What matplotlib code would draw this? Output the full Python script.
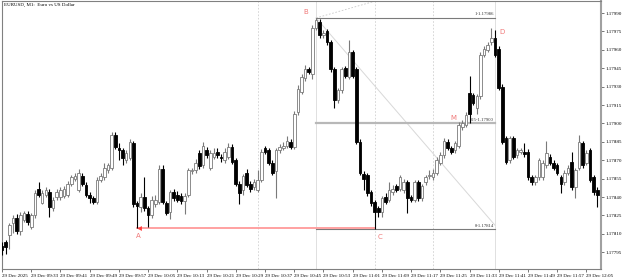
import matplotlib
matplotlib.use("Agg")
import matplotlib.pyplot as plt
from matplotlib.patches import Rectangle

# M1 candles, EURUSD 29 Dec 09:25 .. 12:08
opens = [1.17800, 1.17803, 1.17809, 1.17819, 1.17823, 1.17812, 1.17821, 1.17826, 1.17816, 1.17825,
         1.17847, 1.17835, 1.17842, 1.17844, 1.17831, 1.17840, 1.17840, 1.17841, 1.17842, 1.17851,
         1.17855, 1.17846, 1.17857, 1.17850, 1.17842, 1.17839, 1.17836, 1.17854, 1.17856, 1.17862,
         1.17864, 1.17891, 1.17880, 1.17878, 1.17870, 1.17872, 1.17884, 1.17835, 1.17832, 1.17840,
         1.17831, 1.17825, 1.17834, 1.17836, 1.17863, 1.17835, 1.17828, 1.17844, 1.17842, 1.17841,
         1.17837, 1.17842, 1.17861, 1.17862, 1.17876, 1.17866, 1.17878, 1.17864, 1.17873, 1.17877,
         1.17873, 1.17870, 1.17873, 1.17881, 1.17870, 1.17851, 1.17846, 1.17860, 1.17851, 1.17848,
         1.17846, 1.17854, 1.17880, 1.17878, 1.17868, 1.17861, 1.17878, 1.17880, 1.17882, 1.17885,
         1.17881, 1.17909, 1.17926, 1.17937, 1.17944, 1.17940, 1.17978, 1.17983, 1.17972, 1.17975,
         1.17966, 1.17944, 1.17919, 1.17927, 1.17945, 1.17938, 1.17958, 1.17944, 1.17885, 1.17859,
         1.17858, 1.17844, 1.17836, 1.17831, 1.17828, 1.17840, 1.17838, 1.17844, 1.17849, 1.17847,
         1.17846, 1.17852, 1.17840, 1.17838, 1.17852, 1.17839, 1.17852, 1.17857, 1.17856, 1.17860,
         1.17868, 1.17874, 1.17885, 1.17880, 1.17878, 1.17882, 1.17897, 1.17899, 1.17925, 1.17923,
         1.17913, 1.17922, 1.17956, 1.17960, 1.17966, 1.17970, 1.17961, 1.17930, 1.17888, 1.17870,
         1.17888, 1.17874, 1.17877, 1.17877, 1.17877, 1.17856, 1.17852, 1.17856, 1.17856, 1.17866,
         1.17873, 1.17868, 1.17866, 1.17856, 1.17852, 1.17860, 1.17869, 1.17848, 1.17864, 1.17884,
         1.17868, 1.17878, 1.17856, 1.17846]
highs = [1.17803, 1.17805, 1.17819, 1.17825, 1.17826, 1.17828, 1.17829, 1.17829, 1.17827, 1.17846,
         1.17852, 1.17846, 1.17848, 1.17847, 1.17840, 1.17847, 1.17848, 1.17849, 1.17853, 1.17858,
         1.17860, 1.17863, 1.17860, 1.17852, 1.17844, 1.17841, 1.17856, 1.17860, 1.17868, 1.17868,
         1.17893, 1.17893, 1.17884, 1.17880, 1.17878, 1.17887, 1.17886, 1.17837, 1.17843, 1.17856,
         1.17833, 1.17841, 1.17842, 1.17866, 1.17866, 1.17837, 1.17846, 1.17847, 1.17845, 1.17843,
         1.17843, 1.17864, 1.17864, 1.17871, 1.17878, 1.17885, 1.17881, 1.17878, 1.17880, 1.17880,
         1.17875, 1.17880, 1.17884, 1.17883, 1.17872, 1.17853, 1.17859, 1.17863, 1.17853, 1.17855,
         1.17862, 1.17879, 1.17882, 1.17880, 1.17870, 1.17880, 1.17883, 1.17885, 1.17890, 1.17887,
         1.17910, 1.17931, 1.17940, 1.17948, 1.17946, 1.17980, 1.17986, 1.17985, 1.17976, 1.17977,
         1.17968, 1.17946, 1.17929, 1.17946, 1.17947, 1.17968, 1.17960, 1.17946, 1.17887, 1.17861,
         1.17860, 1.17846, 1.17838, 1.17833, 1.17841, 1.17843, 1.17852, 1.17850, 1.17851, 1.17858,
         1.17855, 1.17854, 1.17842, 1.17854, 1.17854, 1.17851, 1.17858, 1.17862, 1.17863, 1.17873,
         1.17877, 1.17888, 1.17887, 1.17882, 1.17886, 1.17901, 1.17903, 1.17909, 1.17939, 1.17925,
         1.17924, 1.17958, 1.17963, 1.17966, 1.17978, 1.17976, 1.17963, 1.17932, 1.17890, 1.17890,
         1.17890, 1.17880, 1.17880, 1.17884, 1.17879, 1.17858, 1.17858, 1.17872, 1.17870, 1.17886,
         1.17875, 1.17870, 1.17868, 1.17858, 1.17862, 1.17866, 1.17877, 1.17864, 1.17891, 1.17886,
         1.17878, 1.17880, 1.17858, 1.17848]
lows = [1.17793, 1.17794, 1.17798, 1.17811, 1.17810, 1.17809, 1.17820, 1.17817, 1.17814, 1.17823,
        1.17840, 1.17834, 1.17840, 1.17824, 1.17829, 1.17838, 1.17838, 1.17839, 1.17840, 1.17849,
        1.17853, 1.17844, 1.17849, 1.17840, 1.17835, 1.17834, 1.17834, 1.17852, 1.17854, 1.17860,
        1.17862, 1.17879, 1.17870, 1.17866, 1.17868, 1.17870, 1.17832, 1.17815, 1.17828, 1.17829,
        1.17816, 1.17823, 1.17832, 1.17834, 1.17834, 1.17825, 1.17822, 1.17837, 1.17836, 1.17834,
        1.17826, 1.17840, 1.17859, 1.17860, 1.17863, 1.17864, 1.17872, 1.17862, 1.17871, 1.17872,
        1.17869, 1.17868, 1.17871, 1.17867, 1.17849, 1.17834, 1.17842, 1.17848, 1.17844, 1.17846,
        1.17844, 1.17852, 1.17875, 1.17866, 1.17858, 1.17839, 1.17876, 1.17878, 1.17880, 1.17879,
        1.17879, 1.17907, 1.17924, 1.17935, 1.17940, 1.17936, 1.17976, 1.17970, 1.17970, 1.17964,
        1.17942, 1.17913, 1.17917, 1.17925, 1.17937, 1.17936, 1.17937, 1.17883, 1.17858, 1.17846,
        1.17841, 1.17833, 1.17814, 1.17824, 1.17824, 1.17834, 1.17836, 1.17842, 1.17844, 1.17845,
        1.17843, 1.17827, 1.17836, 1.17836, 1.17837, 1.17837, 1.17850, 1.17855, 1.17854, 1.17858,
        1.17866, 1.17872, 1.17878, 1.17875, 1.17876, 1.17880, 1.17895, 1.17897, 1.17900, 1.17915,
        1.17908, 1.17920, 1.17954, 1.17958, 1.17964, 1.17954, 1.17927, 1.17883, 1.17867, 1.17868,
        1.17871, 1.17872, 1.17875, 1.17873, 1.17854, 1.17850, 1.17850, 1.17854, 1.17854, 1.17864,
        1.17866, 1.17862, 1.17858, 1.17843, 1.17850, 1.17858, 1.17846, 1.17839, 1.17862, 1.17864,
        1.17866, 1.17852, 1.17842, 1.17832]
closes = [1.17797, 1.17799, 1.17817, 1.17823, 1.17812, 1.17825, 1.17827, 1.17820, 1.17825, 1.17843,
          1.17842, 1.17843, 1.17846, 1.17832, 1.17838, 1.17844, 1.17846, 1.17847, 1.17851, 1.17856,
          1.17857, 1.17860, 1.17851, 1.17842, 1.17839, 1.17836, 1.17854, 1.17857, 1.17864, 1.17866,
          1.17891, 1.17881, 1.17878, 1.17872, 1.17876, 1.17885, 1.17834, 1.17833, 1.17840, 1.17831,
          1.17825, 1.17838, 1.17838, 1.17863, 1.17836, 1.17827, 1.17844, 1.17839, 1.17838, 1.17837,
          1.17841, 1.17862, 1.17862, 1.17868, 1.17865, 1.17882, 1.17874, 1.17876, 1.17876, 1.17874,
          1.17872, 1.17877, 1.17881, 1.17869, 1.17851, 1.17843, 1.17857, 1.17850, 1.17847, 1.17852,
          1.17854, 1.17877, 1.17877, 1.17868, 1.17860, 1.17878, 1.17881, 1.17882, 1.17886, 1.17881,
          1.17908, 1.17928, 1.17938, 1.17944, 1.17942, 1.17978, 1.17984, 1.17972, 1.17974, 1.17966,
          1.17944, 1.17919, 1.17927, 1.17944, 1.17939, 1.17958, 1.17939, 1.17885, 1.17860, 1.17855,
          1.17843, 1.17835, 1.17828, 1.17828, 1.17839, 1.17836, 1.17846, 1.17847, 1.17846, 1.17856,
          1.17852, 1.17839, 1.17838, 1.17852, 1.17839, 1.17849, 1.17856, 1.17858, 1.17860, 1.17870,
          1.17874, 1.17886, 1.17880, 1.17877, 1.17884, 1.17899, 1.17900, 1.17907, 1.17908, 1.17917,
          1.17922, 1.17956, 1.17961, 1.17964, 1.17970, 1.17956, 1.17929, 1.17885, 1.17869, 1.17888,
          1.17873, 1.17878, 1.17878, 1.17875, 1.17856, 1.17852, 1.17856, 1.17870, 1.17868, 1.17876,
          1.17868, 1.17864, 1.17860, 1.17851, 1.17860, 1.17864, 1.17848, 1.17862, 1.17885, 1.17866,
          1.17876, 1.17854, 1.17844, 1.17842]

time_labels = ["29 Dec 2025", "29 Dec 09:33", "29 Dec 09:41", "29 Dec 09:49", "29 Dec 09:57",
               "29 Dec 10:05", "29 Dec 10:13", "29 Dec 10:21", "29 Dec 10:29", "29 Dec 10:37",
               "29 Dec 10:45", "29 Dec 10:53", "29 Dec 11:01", "29 Dec 11:09", "29 Dec 11:17",
               "29 Dec 11:25", "29 Dec 11:33", "29 Dec 11:41", "29 Dec 11:49", "29 Dec 11:57",
               "29 Dec 12:05"]
price_ticks = [1.17990, 1.17975, 1.17960, 1.17945, 1.17930, 1.17915, 1.17900,
               1.17885, 1.17870, 1.17855, 1.17840, 1.17825, 1.17810, 1.17795]

# pattern points (bar index, price)
pt_a = (37, 1.17815)
pt_b = (86, 1.17986)
pt_c = (102, 1.17814)
pt_d = (135, 1.17978)
pt_m = (125, 1.17900)
fib_levels = [(1.0, 1.17986), (0.5, 1.17900), (0.0, 1.17814)]
fib_start, fib_end = 86, 135

txt_font = ["Liberation Serif", "DejaVu Serif"]
pink = "#f07878"

fig = plt.figure(figsize=(6.25, 2.8), dpi=100)
ax = fig.add_axes([2 / 625, 11 / 280, 599 / 625, 268 / 280])

# object lines behind the candles
for xv in [70.2, 102.2, 118.1]:
    ax.axvline(xv, color="#d0d0d0", lw=0.6, ls=(0, (2, 2)), zorder=0)
for xv in [86.1, 135.0]:
    ax.axvline(xv, color="#e0e0e0", lw=0.7, zorder=0)
ax.plot([pt_b[0], 102.5], [pt_b[1], 1.18000], color="#c8c8c8", lw=0.6, ls=(0, (2, 2)), zorder=0)
ax.plot([pt_b[0], 135], [pt_b[1], 1.17817], color="#d8d8d8", lw=0.7, zorder=0)

for lev, price in fib_levels:
    if lev == 0.5:
        ax.plot([fib_start, fib_end], [price, price], color="#b8b8b8", lw=1.6, zorder=1)
    else:
        ax.plot([fib_start, fib_end], [price, price], color="#7a7a7a", lw=0.8, zorder=1)
    ax.text(fib_end - 0.3, price + 0.000012, "%g-%.5f" % (lev, price), ha="right", va="bottom",
            fontsize=3.4, family=txt_font, color="#333333", zorder=5)

# red line A -> C
ax.plot([pt_a[0], pt_c[0]], [pt_a[1], pt_a[1]], color="#ff9a9a", lw=1.3, zorder=2)
ax.plot([pt_a[0] + 0.6], [pt_a[1]], marker="<", ms=3.5, color="#ff4040", mec="none", zorder=3)

# candles
w = 0.72
for i in range(len(opens)):
    o, h, l, c = opens[i], highs[i], lows[i], closes[i]
    bull = c >= o
    wick = "#7a7a7a" if bull else "black"
    ax.plot([i, i], [l, h], color=wick, lw=0.8, zorder=3, solid_capstyle="butt")
    lo_b, hi_b = min(o, c), max(o, c)
    if hi_b - lo_b < 0.000008:
        hi_b = lo_b + 0.000008
    if bull:
        ax.add_patch(Rectangle((i - w / 2, lo_b), w, hi_b - lo_b, facecolor="white",
                               edgecolor="#7a7a7a", lw=0.6, zorder=4))
    else:
        ax.add_patch(Rectangle((i - w / 2, lo_b), w, hi_b - lo_b, facecolor="black",
                               edgecolor="black", lw=0.6, zorder=4))

# point labels
ax.text(pt_a[0] + 0.3, pt_a[1] - 0.000045, "A", color=pink, fontsize=5, ha="center", va="top")
ax.text(pt_b[0] - 2.7, pt_b[1] + 0.00002, "B", color=pink, fontsize=5, ha="center", va="bottom")
ax.text(pt_c[0] + 1.5, pt_c[1] - 0.00004, "C", color=pink, fontsize=5, ha="center", va="top")
ax.text(pt_d[0] + 1.8, pt_d[1] - 0.00001, "D", color=pink, fontsize=5, ha="center", va="top")
ax.text(pt_m[0] - 1.5, pt_m[1] + 0.00002, "M", color=pink, fontsize=5, ha="center", va="bottom")

ax.text(0.003, 0.993, "EURUSD, M1:  Euro vs US Dollar", transform=ax.transAxes, ha="left", va="top",
        fontsize=3.6, family=txt_font, color="black")

ax.set_xlim(0.22, 164.0)
ax.set_ylim(1.177814, 1.179998)

ax.yaxis.tick_right()
ax.set_yticks(price_ticks)
ax.set_yticklabels(["%.5f" % p for p in price_ticks], fontsize=3.6, family=txt_font)
ax.set_xticks(range(0, 8 * len(time_labels), 8))
ax.set_xticklabels(time_labels, fontsize=3.6, family=txt_font)
for lab in ax.get_xticklabels():
    lab.set_horizontalalignment("left")
ax.tick_params(axis="both", length=2.5, width=0.6, color="#606060", pad=1)

for side in ["left", "top", "bottom"]:
    ax.spines[side].set_color("#808080")
    ax.spines[side].set_linewidth(0.8)
ax.spines["right"].set_color("#a0a0a0")
ax.spines["right"].set_linewidth(1.5)

fig.savefig("out.png", dpi=100)
